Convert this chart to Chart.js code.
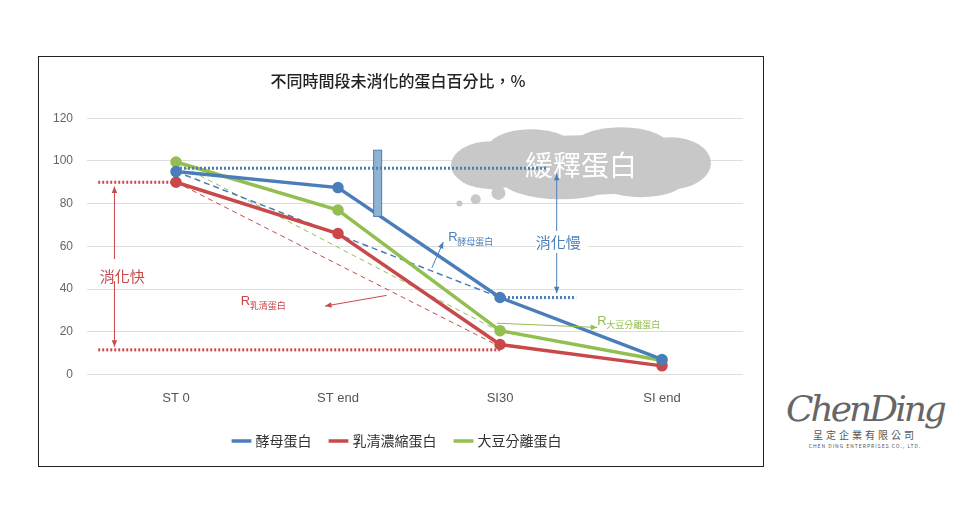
<!DOCTYPE html>
<html><head><meta charset="utf-8">
<script src="https://cdn.jsdelivr.net/npm/chart.js@4"></script>
<style>
body{margin:0;background:#fff;font-family:"Noto Sans CJK TC",sans-serif;}
#box{position:absolute;left:38px;top:56px;width:726px;height:411px;border:1.5px solid #222;box-sizing:border-box;}
#logo{position:absolute;left:780px;top:388px;width:170px;text-align:center;color:#555;}
</style></head><body>
<div id="box"><canvas id="c"></canvas></div>
<div id="logo"><div style="font:italic 36px 'DejaVu Serif';letter-spacing:-3px;color:#666">ChenDing</div>
<div style="font-size:10px;letter-spacing:3px;margin-top:-2px">呈定企業有限公司</div>
<div style="font-size:5px;letter-spacing:1px">CHEN DING ENTERPRISES CO., LTD.</div></div>
<script>
const categories=["ST 0","ST end","SI30","SI end"];
const yeast=[95,87.5,36,7];
const whey=[90,66,14,4];
const soy=[99.5,77,20.5,6.5];
const names=["酵母蛋白","乳清濃縮蛋白","大豆分離蛋白"];
const colors=["#4a7ebb","#c9484a","#93bf50"];
const toXY=a=>a.map((v,i)=>({x:i,y:v}));
const extra=(data,color,dash,w)=>({data,borderColor:color,borderDash:dash,borderWidth:w,pointRadius:0,fill:false,extra:true,order:5});
const annot={id:'annot',afterDatasetsDraw(ch){
 const c=ch.ctx,X=v=>ch.scales.x.getPixelForValue(v),Y=v=>ch.scales.y.getPixelForValue(v);
 c.save();
 c.fillStyle="#8fb4d3";c.strokeStyle="#4a7ebb";c.lineWidth=1;
 c.fillRect(X(1.22),Y(105),8,Y(74)-Y(105));c.strokeRect(X(1.22),Y(105),8,Y(74)-Y(105));
 c.fillStyle="#c8c8c8";
 const cx=X(2.5),cy=Y(98);
 [[0,0,110,30],[-90,0,40,24],[90,-2,40,26],[-50,-14,45,22],[40,-16,50,22],[-20,14,60,20],[60,14,45,18]].forEach(e=>{c.beginPath();c.ellipse(cx+e[0],cy+e[1],e[2],e[3],0,0,7);c.fill();});
 [[X(1.75),Y(80),3],[X(1.85),Y(82),5],[X(1.99),Y(85),7]].forEach(e=>{c.beginPath();c.arc(e[0],e[1],e[2],0,7);c.fill();});
 c.fillStyle="#fff";c.font="28px 'Noto Sans CJK TC'";c.textAlign="center";c.textBaseline="middle";
 c.fillText("緩釋蛋白",cx,cy);
 c.strokeStyle="#4a7ebb";c.lineWidth=3;c.setLineDash([2,2]);
 c.beginPath();c.moveTo(X(0),Y(96.5));c.lineTo(X(2.29),Y(96.5));c.stroke();c.setLineDash([]);
 function arrow(x1,y1,x2,y2,col,both){c.strokeStyle=col;c.fillStyle=col;c.lineWidth=1;c.beginPath();c.moveTo(x1,y1);c.lineTo(x2,y2);c.stroke();
  const h=(a,b,p,q)=>{const an=Math.atan2(q-b,p-a);c.beginPath();c.moveTo(p,q);c.lineTo(p-7*Math.cos(an-0.4),q-7*Math.sin(an-0.4));c.lineTo(p-7*Math.cos(an+0.4),q-7*Math.sin(an+0.4));c.fill();};
  h(x1,y1,x2,y2);if(both)h(x2,y2,x1,y1);}
 arrow(X(-0.38),Y(88),X(-0.38),Y(13),"#c9484a",true);
 arrow(X(2.35),Y(94),X(2.35),Y(38),"#4a7ebb",true);
 arrow(X(1.58),Y(50),X(1.65),Y(62),"#4a7ebb");
 arrow(X(1.3),Y(37),X(0.92),Y(32),"#c9484a");
 arrow(X(1.98),Y(24),X(2.6),Y(22),"#93bf50");
 c.clearRect(X(-0.43),Y(54),40,22);
 c.textAlign="left";c.font="15px 'Noto Sans CJK TC'";
 c.fillStyle="#c9484a";c.fillText("消化快",X(-0.47),Y(46));
 c.fillStyle="#4a7ebb";c.clearRect(X(2.22),Y(67),52,22);c.fillText("消化慢",X(2.22),Y(62));
 function R(x,y,t,col){c.fillStyle=col;c.font="13px 'Liberation Sans'";c.fillText("R",X(x),Y(y));c.font="9px 'Noto Sans CJK TC'";c.fillText(t,X(x)+9,Y(y)+4);}
 R(1.68,64,"酵母蛋白","#4a7ebb");R(0.4,34,"乳清蛋白","#c9484a");R(2.6,25,"大豆分離蛋白","#93bf50");
 c.restore();}};
new Chart(document.getElementById('c'),{type:'line',
 data:{datasets:[
  {label:names[0],data:toXY(yeast),borderColor:colors[0],backgroundColor:colors[0],borderWidth:3.5,pointRadius:4,order:1},
  {label:names[1],data:toXY(whey),borderColor:colors[1],backgroundColor:colors[1],borderWidth:3.5,pointRadius:4,order:1},
  {label:names[2],data:toXY(soy),borderColor:colors[2],backgroundColor:colors[2],borderWidth:3.5,pointRadius:4,order:1},
  extra([{x:-0.48,y:90},{x:0,y:90}],colors[1],[2,2],3),
  extra([{x:-0.48,y:11.5},{x:2,y:11.5}],colors[1],[2,2],3),
  extra([{x:2,y:36},{x:2.47,y:36}],colors[0],[2,2],3),
  extra([{x:0,y:95},{x:2,y:36}],colors[0],[6,4],1.5),
  extra([{x:0,y:90},{x:2,y:13}],colors[1],[5,4],1),
  extra([{x:0,y:99},{x:2,y:20}],colors[2],[5,4],1)]},
 options:{responsive:true,maintainAspectRatio:false,animation:false,
  layout:{padding:{left:14,right:20,top:8,bottom:8}},
  plugins:{title:{display:true,text:"不同時間段未消化的蛋白百分比，%",font:{size:16,weight:'500',family:"Noto Sans CJK TC"},color:"#222",padding:{top:6,bottom:28}},
   legend:{position:'bottom',labels:{filter:i=>i.datasetIndex<3,usePointStyle:true,pointStyle:'line',font:{size:14,family:"Noto Sans CJK TC"},color:"#333",boxWidth:40,padding:20}},tooltip:{enabled:false}},
  scales:{x:{type:'linear',min:-0.5,max:3.5,grid:{display:false},border:{display:false},
    afterBuildTicks:a=>{a.ticks=categories.map((_,i)=>({value:i}));},
    ticks:{callback:v=>categories[v],color:"#555",font:{size:13},padding:8}},
   y:{min:0,max:120,afterFit:s=>{s.width=42;},ticks:{stepSize:20,color:"#666",font:{size:12},padding:14},grid:{color:"#ddd"},border:{display:false}}}},
 plugins:[annot]});
</script></body></html>
